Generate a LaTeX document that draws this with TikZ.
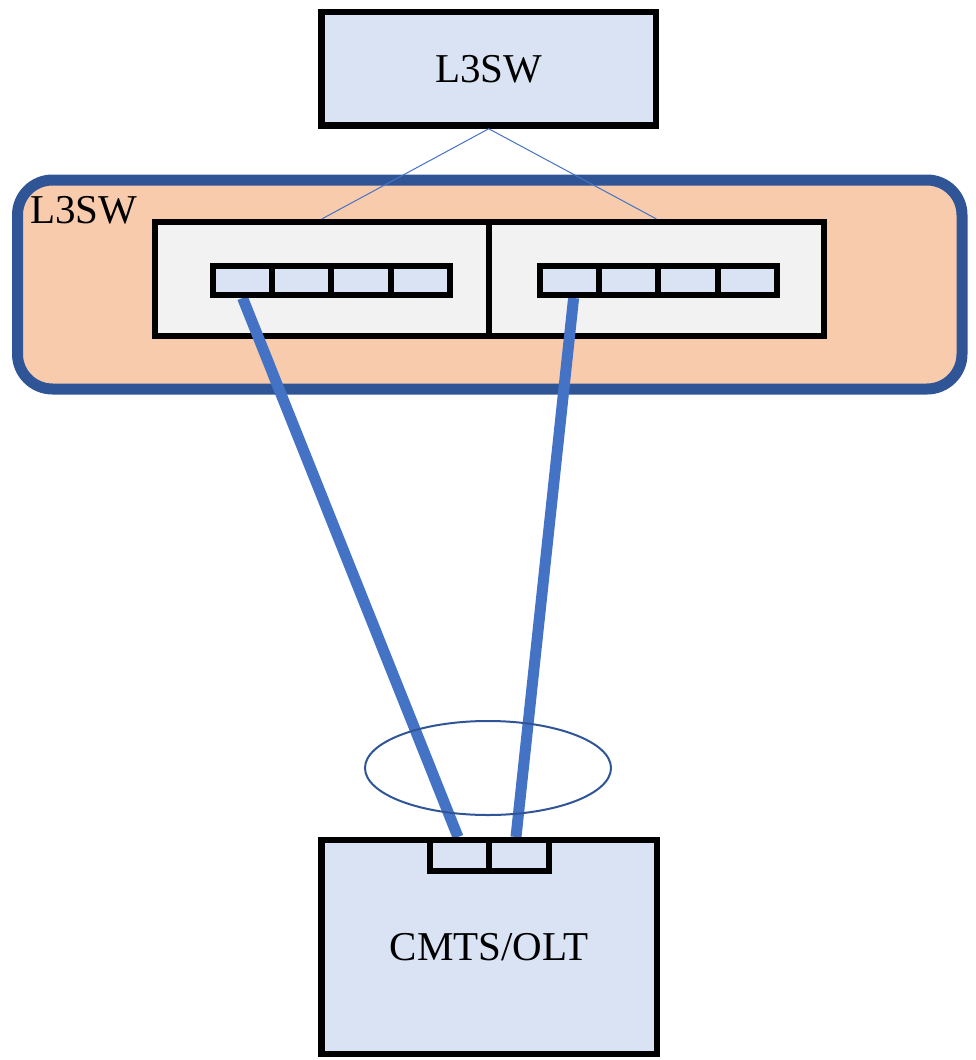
\documentclass[tikz,border=0pt]{standalone}
\usepackage{fontspec}
\setmainfont{Liberation Serif}
\usetikzlibrary{shapes.geometric}
\definecolor{boxblue}{HTML}{DAE3F3}
\definecolor{peach}{HTML}{F8CBAD}
\definecolor{panel}{HTML}{F2F2F2}
\definecolor{darkblue}{HTML}{2F5597}
\definecolor{linkblue}{HTML}{4472C4}
\pgfdeclarelayer{ports}
\pgfsetlayers{main,ports}
\begin{document}
\begin{tikzpicture}[x=1pt,y=-1pt,
  device/.style={draw=black,line width=6.5pt,fill=boxblue,rectangle,inner sep=0pt,
    font=\fontsize{41}{48}\selectfont},
  chassis/.style={draw=darkblue,line width=11pt,fill=peach,rectangle,rounded corners=35pt,inner sep=0pt},
  card/.style={draw=black,line width=6pt,fill=panel,rectangle,inner sep=0pt,
    minimum width=334.5pt,minimum height=113.5pt},
  port/.style={draw=black,line width=6pt,fill=boxblue,rectangle,inner sep=0pt,
    minimum width=59.25pt,minimum height=29pt},
  uplink/.style={draw=linkblue,line width=1pt},
  trunk/.style={draw=linkblue,line width=11pt},
  lagring/.style={draw=darkblue,line width=2pt,ellipse,inner sep=0pt,
    minimum width=246pt,minimum height=94pt}]
\useasboundingbox (0,0) rectangle (975,1060);

% switch chassis with its two line cards
\node[chassis,minimum width=944.5pt,minimum height=209pt] (sw) at (489.75,284.5) {};
\node[anchor=base west,inner sep=0pt,font=\fontsize{41}{48}\selectfont] (swlabel) at (30,223) {L3SW};
\node[card] (cardL) at (321.75,278.75) {};
\node[card] (cardR) at (656.5,278.75) {};

% upstream switch
\node[device,minimum width=334.5pt,minimum height=113.5pt] (top) at (488.75,68.75) {L3SW};
\draw[uplink] (top.south) -- (cardL.north);
\draw[uplink] (top.south) -- (cardR.north);

% access device
\node[device,minimum width=335.5pt,minimum height=214pt] (cmts) at (489.25,947) {CMTS/OLT};

% ports sit on their own layer, above the link ends
\begin{pgfonlayer}{ports}
  \foreach \i/\x in {1/242.6,2/301.9,3/361.1,4/420.4}
    \node[port] (l\i) at (\x,280.5) {};
  \foreach \i/\x in {1/569.6,2/628.9,3/688.1,4/747.4}
    \node[port] (r\i) at (\x,280.5) {};
  \node[port,minimum width=59pt,minimum height=31pt] (b1) at (459.5,855.5) {};
  \node[port,minimum width=60pt,minimum height=31pt] (b2) at (519,855.5) {};
\end{pgfonlayer}

% aggregated links
\draw[trunk] (l1.south) -- ([xshift=-1.5pt]b1.north);
\draw[trunk] ([xshift=4pt]r1.south) -- ([xshift=-3pt]b2.north);
\node[lagring] (lag) at (488,768) {};
\end{tikzpicture}
\end{document}
